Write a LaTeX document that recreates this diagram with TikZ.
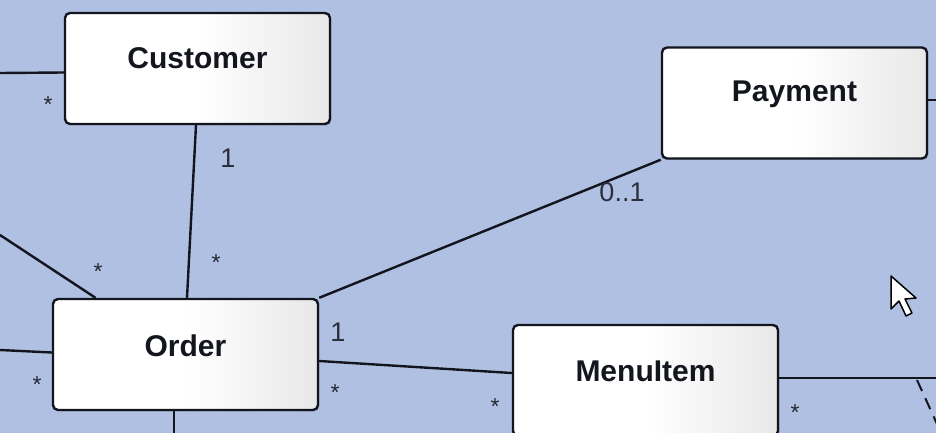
\documentclass[tikz,border=0pt]{standalone}
\usepackage{fontspec}
\setmainfont{Liberation Sans}
\usetikzlibrary{shadows}
\definecolor{bgblue}{RGB}{176,192,226}
\definecolor{edgecol}{RGB}{18,20,30}
\definecolor{txtcol}{RGB}{20,22,30}
\begin{document}
\begin{tikzpicture}[x=1pt,y=-1pt,
  cls/.style={rectangle, rounded corners=5pt, draw=edgecol, line width=2.4pt,
    minimum width=265pt, minimum height=111pt, inner sep=0pt,
    left color=white, right color=black!9, middle color=white,
    drop shadow={shadow xshift=1.5pt, shadow yshift=-1.5pt, opacity=0.25}},
  clsname/.style={font=\bfseries\fontsize{30}{32}\selectfont, text=txtcol, inner sep=0pt},
  assoc/.style={draw=edgecol, line width=2.4pt},
  mult/.style={font=\fontsize{27}{29}\selectfont, text=txtcol!85!bgblue, inner sep=0pt},
  star/.style={font=\fontsize{23}{25}\selectfont, text=txtcol!90!bgblue, inner sep=0pt, yshift=-5pt}
]
\fill[bgblue] (0,0) rectangle (936,433);
\useasboundingbox (0,0) rectangle (936,433);
\clip (0,0) rectangle (936,433);

% classes
\node[cls] (cust) at (197.5,68.5) {};
\node[clsname] (custname) at ([yshift=10pt]cust.center) {Customer};
\node[cls] (pay) at (794.5,103) {};
\node[clsname] (payname) at ([yshift=9pt]pay.center) {Payment};
\node[cls] (order) at (185.5,354.5) {};
\node[clsname] (ordername) at ([yshift=9pt]order.center) {Order};
\node[cls] (menu) at (645.5,380.5) {};
\node[clsname] (menuname) at ([yshift=9pt]menu.center) {MenuItem};

% free ends
\coordinate (lc) at (0,73);
\coordinate (lo1) at (0,235);
\coordinate (lo2) at (0,350);
\coordinate (ob) at (174,440);
\coordinate (pr) at (940,100);
\coordinate (mr) at (940,378);
\coordinate (d1) at (917,380);
\coordinate (d2) at (942,435);

% associations
\draw[assoc] (lc) -- ([yshift=-4pt]cust.west);
\draw[assoc] ([xshift=-1.5pt]cust.south) -- ([xshift=1.5pt]order.north);
\draw[assoc] (lo1) -- ([xshift=-90pt]order.north);
\draw[assoc] (lo2) -- ([yshift=2pt]order.west);
\draw[assoc] (order.north east) -- (pay.south west);
\draw[assoc] ([yshift=-6.5pt]order.east) -- ([yshift=7.5pt]menu.west);
\draw[assoc] ([xshift=-11.5pt]order.south) -- (ob);
\draw[assoc] ([yshift=3pt]pay.east) -- (pr);
\draw[assoc] ([yshift=2.5pt]menu.east) -- (mr);
\draw[assoc, dashed, line width=2pt, dash pattern=on 12pt off 8pt] (d1) -- (d2);

% multiplicities
\node[star] (m1) at (48,100) {*};
\node[mult] (m2) at (228,158) {1};
\node[star] (m3) at (216,258) {*};
\node[star] (m4) at (98,267) {*};
\node[star] (m5) at (37,380) {*};
\node[mult] (m6) at (622,192) {0..1};
\node[mult] (m7) at (338,332) {1};
\node[star] (m8) at (335,388) {*};
\node[star] (m9) at (495,402) {*};
\node[star] (m10) at (795,408) {*};
\node[star] (m11) at (215,437) {*};

% mouse cursor
\draw[fill=white, draw=black, line width=1.5pt, line join=round]
  (891,276) -- (891,309) -- (899,301) -- (906,316) -- (912,313) -- (905,299) -- (916,298) -- cycle;
\end{tikzpicture}
\end{document}
